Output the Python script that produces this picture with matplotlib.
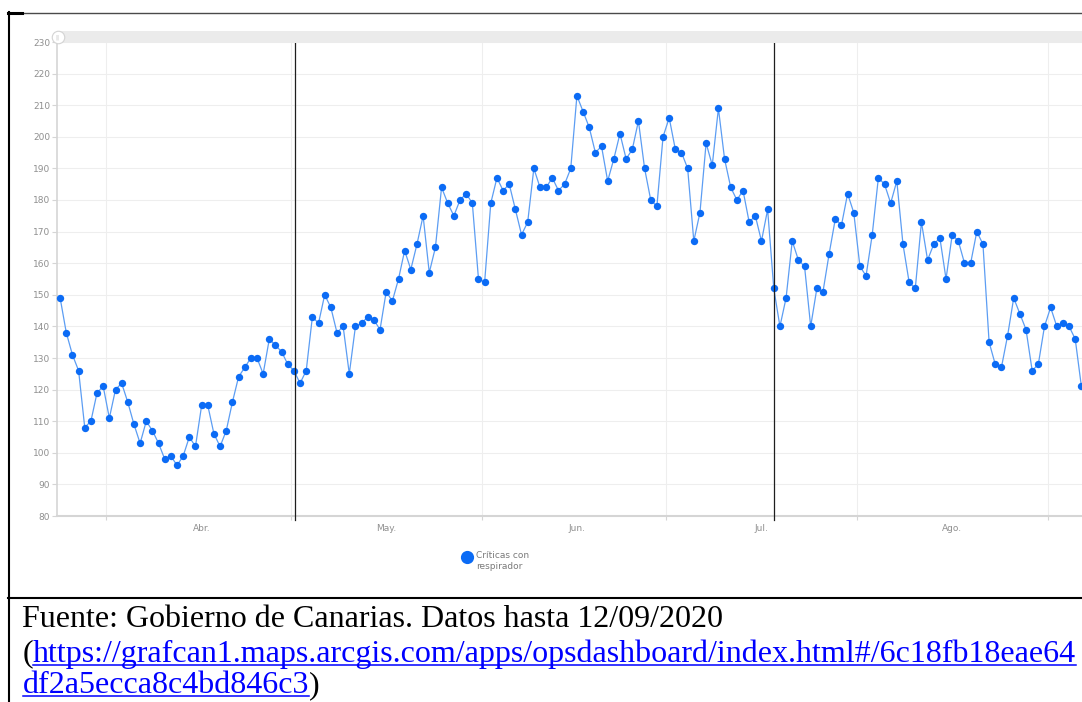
import matplotlib
matplotlib.use('Agg')
import matplotlib.pyplot as plt
import matplotlib.dates as mdates
import matplotlib.ticker as mticker
from matplotlib.lines import Line2D
from matplotlib.patches import Rectangle
import pandas as pd

# ---------------- data ----------------
start_date = '2020-03-24 12:00'
critical_ventilated = [
    149, 138, 131, 126, 108, 110, 119, 121, 111, 120, 122, 116, 109, 103, 110, 107,
    103, 98, 99, 96, 99, 105, 102, 115, 115, 106, 102, 107, 116, 124, 127, 130,
    130, 125, 136, 134, 132, 128, 126, 122, 126, 143, 141, 150, 146, 138, 140, 125,
    140, 141, 143, 142, 139, 151, 148, 155, 164, 158, 166, 175, 157,
    165, 184, 179, 175, 180, 182, 179, 155, 154, 179, 187, 183, 185, 177, 169, 173,
    190, 184, 184, 187, 183, 185, 190, 213, 208, 203, 195, 197,
    186, 193, 201, 193, 196, 205, 190, 180, 178, 200, 206, 196, 195, 190, 167, 176,
    198, 191, 209, 193, 184, 180, 183, 173, 175, 167, 177, 152,
    140, 149, 167, 161, 159, 140, 152, 151, 163, 174, 172, 182, 176, 159, 156, 169,
    187, 185, 179, 186, 166, 154, 152, 173, 161, 166, 168, 155, 169, 167,
    160, 160, 170, 166, 135, 128, 127, 137, 149, 144, 139, 126, 128, 140, 146, 140,
    141, 140, 136, 121,
]
month_starts = ['2020-04-01', '2020-05-01', '2020-06-01', '2020-07-01', '2020-08-01', '2020-09-01']
month_label_dates = ['2020-04-16 12:00', '2020-05-16 12:00', '2020-06-16 12:00',
                     '2020-07-16 12:00', '2020-08-16 12:00']
month_labels = ['Abr.', 'May.', 'Jun.', 'Jul.', 'Ago.']
y_ticks = list(range(80, 231, 10))
marker_lines = ['2020-05-01 17:00', '2020-07-18 11:00']
legend_label = 'Críticas con\nrespirador'
source_line = 'Fuente: Gobierno de Canarias. Datos hasta 12/09/2020'
url_part1 = 'https://grafcan1.maps.arcgis.com/apps/opsdashboard/index.html#/6c18fb18eae64'
url_part2 = 'df2a5ecca8c4bd846c3'

# ---------------- figure ----------------
W, H = 1082, 702
fig = plt.figure(figsize=(W / 100, H / 100), dpi=100)
fig.patch.set_facecolor('white')


def fx(px):
    return px / W


def fy(py):
    return 1 - py / H


ax = fig.add_axes([fx(57), fy(516), fx(1082) - fx(57), fy(42) - fy(516)])

dates = pd.date_range(start_date, periods=len(critical_ventilated), freq='D')
xnum = mdates.date2num(dates)
line_color = '#5c9df3'
dot_color = '#0b6bf5'
ax.plot(xnum, critical_ventilated, color=line_color, lw=0.9, marker='o', ms=5.3,
        mfc=dot_color, mec=dot_color, mew=0, clip_on=False, zorder=3)

x0 = mdates.date2num(pd.Timestamp(start_date))
ax.set_xlim(x0 - 0.51, x0 + 166.1)
ax.set_ylim(80, 230)
ax.set_yticks(y_ticks)

ax.xaxis.set_major_locator(mticker.FixedLocator(mdates.date2num(pd.to_datetime(month_starts))))
ax.xaxis.set_major_formatter(mticker.NullFormatter())
ax.xaxis.set_minor_locator(mticker.FixedLocator(mdates.date2num(pd.to_datetime(month_label_dates))))
ax.xaxis.set_minor_formatter(mticker.FixedFormatter(month_labels))

grid_c = '#eeeeee'
ax.grid(True, which='major', color=grid_c, lw=0.8, zorder=0)
ax.set_axisbelow(True)

ax.tick_params(axis='y', length=3.5, width=0.8, color='#d5d5d5', labelcolor='#8f8f8f',
               labelsize=6.5, pad=1.5)
ax.tick_params(axis='x', which='major', length=3, width=0.8, color='#d5d5d5')
ax.tick_params(axis='x', which='minor', length=0, pad=6.0, labelsize=6.5, labelcolor='#8f8f8f')

for s in ['top', 'right']:
    ax.spines[s].set_visible(False)
ax.spines['left'].set_color('#d5d5d5')
ax.spines['left'].set_linewidth(1.2)
ax.spines['bottom'].set_color('#d5d5d5')
ax.spines['bottom'].set_linewidth(1.5)

for d in marker_lines:
    ax.axvline(mdates.date2num(pd.Timestamp(d)), ymin=-0.009, ymax=1, color='#1e1e1e',
               lw=0.9, clip_on=False, zorder=4)

# top scroll band
fig.add_artist(Rectangle((fx(57), fy(42.7)), fx(1082) - fx(57), fy(30.7) - fy(42.7),
                         transform=fig.transFigure, facecolor='#ebebeb', edgecolor='none'))
fig.add_artist(Line2D([fx(57.5)], [fy(36.5)], marker='o', ms=9, mfc='white', mec='#d3d3d3',
                      mew=0.8, ls='none', transform=fig.transFigure))
fig.text(fx(57.5), fy(36.8), '||', fontsize=4, color='#b0b0b0', ha='center', va='center')

# legend (marker + label)
fig.add_artist(Line2D([fx(466.5)], [fy(556.5)], marker='o', ls='none', ms=9.5, mfc=dot_color,
                      mec=dot_color, mew=0, transform=fig.transFigure))
fig.text(fx(476), fy(551.5), legend_label, fontsize=6.5, color='#7a7a7a', ha='left', va='top',
         linespacing=1.15)

# document frame lines
fig.add_artist(Line2D([fx(8), fx(1082)], [fy(12.5), fy(12.5)], color='#4a4a4a', lw=1.0,
                      transform=fig.transFigure))
fig.add_artist(Line2D([fx(8), fx(22)], [fy(13), fy(13)], color='black', lw=2.2,
                      transform=fig.transFigure))
fig.add_artist(Line2D([fx(9.2), fx(9.2)], [fy(12), fy(702)], color='black', lw=1.5,
                      transform=fig.transFigure))
fig.add_artist(Line2D([fx(8), fx(1082)], [fy(598.3), fy(598.3)], color='black', lw=1.5,
                      transform=fig.transFigure))

# source text
serif = 'Liberation Serif'
fs = 23.0
blue = '#0000ff'
fig.text(fx(22.5), fy(626.7), source_line, fontsize=fs, family=serif, color='black', va='baseline')
t_open = fig.text(fx(22.5), fy(661.7), '(', fontsize=fs, family=serif, color='black', va='baseline')
fig.canvas.draw()
r = fig.canvas.get_renderer()
bb = t_open.get_window_extent(r)
t_url1 = fig.text(bb.x1 / W, fy(661.7), url_part1, fontsize=fs, family=serif, color=blue, va='baseline')
t_url2 = fig.text(fx(22.5), fy(693), url_part2, fontsize=fs, family=serif, color=blue, va='baseline')
fig.canvas.draw()
b1 = t_url1.get_window_extent(r)
b2 = t_url2.get_window_extent(r)
fig.text(b2.x1 / W, fy(693), ')', fontsize=fs, family=serif, color='black', va='baseline')
for b, base in [(b1, 661.7), (b2, 693)]:
    fig.add_artist(Line2D([b.x0 / W, b.x1 / W], [fy(base + 3), fy(base + 3)], color=blue, lw=1.1,
                          transform=fig.transFigure))

fig.savefig('out.png', dpi=100)
